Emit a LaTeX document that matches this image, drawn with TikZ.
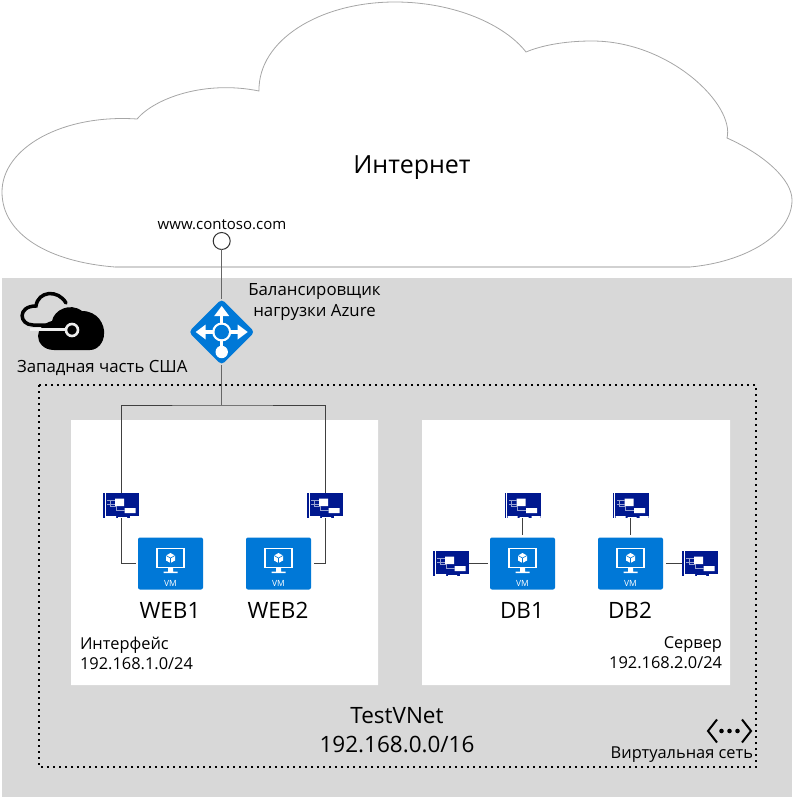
\documentclass[tikz,border=0pt]{standalone}
\usepackage{fontspec}
\setmainfont{Open Sans}
\usetikzlibrary{
    positioning,
    shapes.geometric
}
\definecolor{azureblue}{RGB}{0,120,215}
\definecolor{nicblue}{RGB}{0,24,143}
\definecolor{regiongrey}{RGB}{216,216,216}
\tikzset{
    % Nodes
    label/.style={inner sep=0pt,outer sep=0pt,text=black,align=center},
    huge label/.style={label,font=\fontsize{25}{30}\selectfont},
    big label/.style={label,font=\fontsize{22.5}{29}\selectfont},
    mid label/.style={label,font=\fontsize{16.8}{21}\selectfont},
    small label/.style={label,font=\fontsize{16.4}{20}\selectfont},
    url label/.style={label,font=\fontsize{15}{20}\selectfont},
    vmbox/.style={rectangle,fill=azureblue,rounded corners=2pt,minimum width=65pt,minimum height=52pt,inner sep=0pt,outer sep=2.5pt},
    nicbox/.style={rectangle,fill=nicblue,minimum width=36pt,minimum height=25pt,inner sep=0pt,outer sep=0pt},
    lbbox/.style={diamond,fill=azureblue,rounded corners=4pt,minimum width=66pt,minimum height=66pt,inner sep=0pt,outer sep=0pt},
    urlbox/.style={circle,draw=black!80,fill=white,line width=1pt,minimum size=17pt,inner sep=0pt,outer sep=0pt},
    subnet/.style={fill=white},
    %
    % Lines
    wire/.style={line width=1pt,color=black!75},
    uplink/.style={line width=1.5pt,color=black!60},
    %
    % Icons
    vm/.pic={
        \node[vmbox] (-box) at (0,0) {};
        \draw[white,line width=1.1pt] (-13.5,-15) rectangle (13.5,4);
        \fill[white] (-2.5,4) rectangle (2.5,8) (-7,8) rectangle (7,9.6);
        \fill[white] (0,-10.5) -- (4.5,-8) -- (4.5,-3) -- (0,-.5) -- (-4.5,-3) -- (-4.5,-8) -- cycle;
        \draw[azureblue,line width=.6pt] (-4.5,-8) -- (0,-5.5) -- (4.5,-8) (0,-5.5) -- (0,-.5);
        \node[label,text=white,font=\fontsize{8.5}{10}\selectfont] (-text) at (0,20) {VM};
    },
    nic/.pic={
        \node[nicbox] (-box) at (0,0) {};
        \draw[white,line width=.8pt] (-15.7,-12.5) -- (-15.7,12.5);
        \fill[white] (-15,10.5) rectangle (-5,12.5) (-3,11.5) rectangle (6,12.5) (9,10.5) rectangle (18,12.5);
        \fill[white] (-6,-7) rectangle (3,.5) (3.5,2.5) rectangle (14.5,7.5);
        \draw[white!60!nicblue,line width=.6pt] (-14,-5) -- (-6,-5) (-14,-1) -- (-6,-1) (-11,-5) -- (-11,1) -- (-5,1) -- (-5,5) -- (3.5,5);
    }
}

\begin{document}
\begin{tikzpicture}[x=1pt,y=-1pt]
        \useasboundingbox (0,0) rectangle (794,799);
        % Internet cloud
        \draw[black!35,line width=.8pt] (115,267) .. controls (50,262) and (2,235) .. (2,192)
            .. controls (2,148) and (62,114) .. (137,119)
            .. controls (155,98) and (205,80) .. (259,91)
            .. controls (258,40) and (320,2) .. (395,2)
            .. controls (455,2) and (505,25) .. (526,52)
            .. controls (545,44) and (570,41) .. (592,41)
            .. controls (670,41) and (735,105) .. (727,138)
            .. controls (765,155) and (792,180) .. (792,200)
            .. controls (792,235) and (745,262) .. (690,267) -- cycle;
        \draw[black!18,line width=2pt] (115,267) -- (690,267);
        \node[huge label] (internet) at (412,168) {Интернет};
        \node[url label] (url) at (222,225) {www.contoso.com};
        \node[urlbox] (dns) at (221.7,241) {};
        % Region and subnets
        \fill[regiongrey] (2,278) rectangle (792,797);
        \draw[line width=2pt,dash pattern=on 2pt off 4pt] (39,385) rectangle (756,767);
        \fill[subnet] (71,420) rectangle (378,685) (422,420) rectangle (730,685);
        % Region icon
        \draw[line width=3.5pt,line cap=round] (60,325) -- (33,325) .. controls (19,325) and (17,306) .. (36,306) .. controls (38,291) and (58,289) .. (66,303);
        \fill (54,350) .. controls (43,350) and (38,342) .. (38,336) .. controls (38,329) and (44,323) .. (52,321) .. controls (54,310) and (70,302) .. (82,311) .. controls (98,311) and (105,325) .. (104,334) .. controls (104,342) and (98,350) .. (90,350) -- cycle;
        \draw[regiongrey!50!white,line width=3.5pt] (30,329.5) -- (66,329.5);
        \draw[regiongrey!50!white,line width=2.6pt] (72,330) circle[radius=6];
        \node[mid label,anchor=west] (region) at (17,368) {Западная часть США};
        % Load balancer
        \node[lbbox] (lb) at (221.7,332) {};
        \fill[white] (221.7,332) circle[radius=9.5] (221.7,352) circle[radius=6.2];
        \draw[white,line width=3pt] (221.7,332) -- (221.7,352);
        \foreach \a in {0,90,180}{
            \begin{scope}[shift={(221.7,332)},rotate=\a]
                \draw[white,line width=3.5pt] (8,0) -- (18,0);
                \fill[white] (26,0) -- (16,-7.5) -- (16,7.5) -- cycle;
            \end{scope}
        }
        \fill[azureblue] (221.7,332) circle[radius=7.2];
        \node[mid label] (lbtext) at (314.5,302.5) {Балансировщик\\нагрузки Azure};
        \draw[uplink] (dns) -- (lb);
        % Virtual machines and network cards
        \pic (vmA) at (170.5,563.5) {vm};
        \pic (vmB) at (278.5,563.5) {vm};
        \pic (vmC) at (522.5,563.5) {vm};
        \pic (vmD) at (630.5,563.5) {vm};
        \pic (nicA) at (121,505.5) {nic};
        \pic (nicB) at (325,505.5) {nic};
        \pic (nicC) at (522.5,505.5) {nic};
        \pic (nicD) at (630.5,505.5) {nic};
        \pic (nicE) at (451,563.5) {nic};
        \pic (nicF) at (700,563.5) {nic};
        \coordinate (bus) at (221.7,405);
        \draw[uplink] (lb) -- (bus);
        \draw[wire] (nicA-box) |- (bus) -| (nicB-box);
        \draw[wire] (nicA-box) |- (vmA-box);
        \draw[wire] (nicB-box) |- (vmB-box);
        \draw[wire] (nicC-box) -- (vmC-box);
        \draw[wire] (nicD-box) -- (vmD-box);
        \draw[wire] (nicE-box) -- (vmC-box);
        \draw[wire] (nicF-box) -- (vmD-box);
        \node[big label] (web1) at (170,610) {WEB1};
        \node[big label] (web2) at (278,610) {WEB2};
        \node[big label] (db1) at (522,610) {DB1};
        \node[big label] (db2) at (630,610) {DB2};
        \node[small label,anchor=north west,align=left] (front) at (80,637) {Интерфейс\\192.168.1.0/24};
        \node[small label,anchor=north east,align=right] (back) at (722,637) {Сервер\\192.168.2.0/24};
        % Virtual network
        \node[big label] (vnet) at (397,730) {TestVNet\\192.168.0.0/16};
        \draw[line width=2pt] (717,719.5) -- (708,731) -- (717,742.5) (742,719.5) -- (751,731) -- (742,742.5);
        \foreach \x in {721.5,729.5,737.5}{
            \fill (\x,731) circle[radius=2.3];
        }
        \node[small label,anchor=east] (vnettext) at (753,755) {Виртуальная сеть};
    \end{tikzpicture}
\end{document}
